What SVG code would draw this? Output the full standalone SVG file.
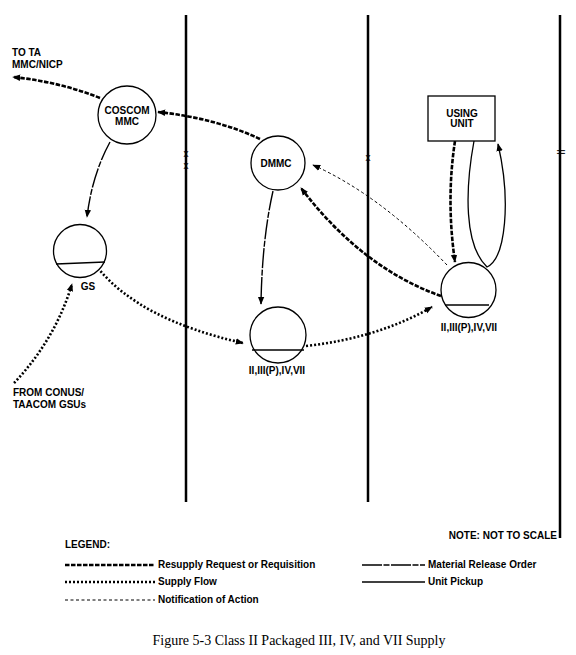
<svg xmlns="http://www.w3.org/2000/svg" width="576" height="655" viewBox="0 0 576 655">
<defs>
<style>
text{font-family:"Liberation Sans",Arial,sans-serif;font-weight:bold;fill:#000}
.lbl{font-size:10px}
.lg{font-size:10px}
.mk{font-size:10px;font-weight:normal}
.cap{font-family:"Liberation Serif","Times New Roman",serif;font-weight:normal;font-size:14px}
.node{fill:#fff;stroke:#000;stroke-width:1.3}
.bar{stroke:#000;stroke-width:1.5}
.div{stroke:#000;stroke-width:2.5}
.req{fill:none;stroke:#000;stroke-width:2.6;stroke-dasharray:4.5 1.5}
.sup{fill:none;stroke:#000;stroke-width:2.6;stroke-dasharray:2 2}
.not{fill:none;stroke:#000;stroke-width:1;stroke-dasharray:3 2.5}
.mro{fill:none;stroke:#000;stroke-width:1.4;stroke-dasharray:20 1.5 6 1.5}
.pk{fill:none;stroke:#000;stroke-width:1.3}
</style>
<marker id="ah" viewBox="0 0 10 10" refX="9" refY="5" markerWidth="8" markerHeight="8" markerUnits="userSpaceOnUse" orient="auto">
<path d="M0,1 L10,5 L0,9 z" fill="#000"/>
</marker>
</defs>
<rect width="576" height="655" fill="#fff"/>

<g id="boundaries">
<line class="div" x1="186" y1="15" x2="186" y2="502"/>
<line class="div" x1="368" y1="15" x2="368" y2="502"/>
<line class="div" x1="560" y1="15" x2="560" y2="538"/>
<text class="mk" x="186" y="157" text-anchor="middle">x</text>
<text class="mk" x="186" y="169" text-anchor="middle">x</text>
<text class="mk" x="368" y="161" text-anchor="middle">x</text>
<text class="mk" transform="translate(560,152) rotate(90)" text-anchor="middle" y="3.5">II</text>
</g>

<g id="connectors">
<path class="req" d="M100,98 Q60,82 13,77" marker-end="url(#ah)"/>
<path class="req" d="M260,139 Q215,118 158,112" marker-end="url(#ah)"/>
<path class="mro" d="M110,142 Q92,175 87,217" marker-end="url(#ah)"/>
<path class="mro" d="M273,191 Q262,240 261,304" marker-end="url(#ah)"/>
<path class="sup" d="M98,268 Q140,320 243,343" marker-end="url(#ah)"/>
<path class="sup" d="M14,383 Q55,340 72,284" marker-end="url(#ah)"/>
<path class="sup" d="M306,346 Q378,338 432,307" marker-end="url(#ah)"/>
<path class="req" d="M441,296 Q362,268 301,188" marker-end="url(#ah)"/>
<path class="not" d="M447,265 Q380,195 313,165" marker-end="url(#ah)"/>
<path class="req" d="M455,141 Q446,200 455,262" marker-end="url(#ah)"/>
<path class="pk" d="M474,141 C465,190 464,245 487,267 C506,258 511,200 498,144" marker-end="url(#ah)"/>
</g>

<g id="coscom">
<circle class="node" cx="127" cy="115" r="29"/>
<text class="lbl" x="127" y="113.5" text-anchor="middle">COSCOM</text>
<text class="lbl" x="127" y="124.5" text-anchor="middle">MMC</text>
</g>
<g id="dmmc">
<circle class="node" cx="278" cy="163" r="27"/>
<text class="lbl" x="276" y="166.5" text-anchor="middle">DMMC</text>
</g>
<g id="gs">
<circle class="node" cx="80" cy="251" r="26.5"/>
<line class="bar" x1="56" y1="264" x2="105" y2="262"/>
<text class="lbl" x="88" y="289.5" text-anchor="middle">GS</text>
</g>
<g id="dsu">
<circle class="node" cx="278" cy="335" r="28"/>
<line class="bar" x1="252" y1="350" x2="304" y2="350"/>
<text class="lbl" x="277" y="374" text-anchor="middle">II,III(P),IV,VII</text>
</g>
<g id="fsu">
<circle class="node" cx="468.5" cy="290" r="27.5"/>
<line class="bar" x1="445" y1="305" x2="489" y2="305"/>
<text class="lbl" x="469" y="330.5" text-anchor="middle">II,III(P),IV,VII</text>
</g>
<g id="using-unit">
<rect class="node" x="428" y="96" width="67" height="45"/>
<text class="lbl" x="462" y="116.5" text-anchor="middle">USING</text>
<text class="lbl" x="462" y="127" text-anchor="middle">UNIT</text>
</g>
<g id="to-ta">
<text class="lbl" x="12" y="56">TO TA</text>
<text class="lbl" x="12" y="68">MMC/NICP</text>
</g>
<g id="from-conus">
<text class="lbl" x="13" y="396">FROM CONUS/</text>
<text class="lbl" x="13" y="408">TAACOM GSUs</text>
</g>

<g id="legend">
<text class="lg" x="65" y="547.5">LEGEND:</text>
<line class="req" x1="65" y1="565" x2="155" y2="565"/>
<text class="lg" x="158" y="568">Resupply Request or Requisition</text>
<line class="sup" x1="65" y1="582" x2="155" y2="582"/>
<text class="lg" x="158" y="585">Supply Flow</text>
<line class="not" x1="65" y1="600" x2="155" y2="600"/>
<text class="lg" x="158" y="603">Notification of Action</text>
<line class="mro" x1="362" y1="565" x2="425" y2="565"/>
<text class="lg" x="428" y="568">Material Release Order</text>
<line class="pk" x1="362" y1="582" x2="425" y2="582"/>
<text class="lg" x="428" y="585">Unit Pickup</text>
<text class="lg" x="557" y="539" text-anchor="end" font-size="10.5">NOTE:  NOT TO SCALE</text>
</g>

<text class="cap" x="299" y="645" text-anchor="middle">Figure 5-3  Class II Packaged III, IV, and VII  Supply</text>
</svg>
